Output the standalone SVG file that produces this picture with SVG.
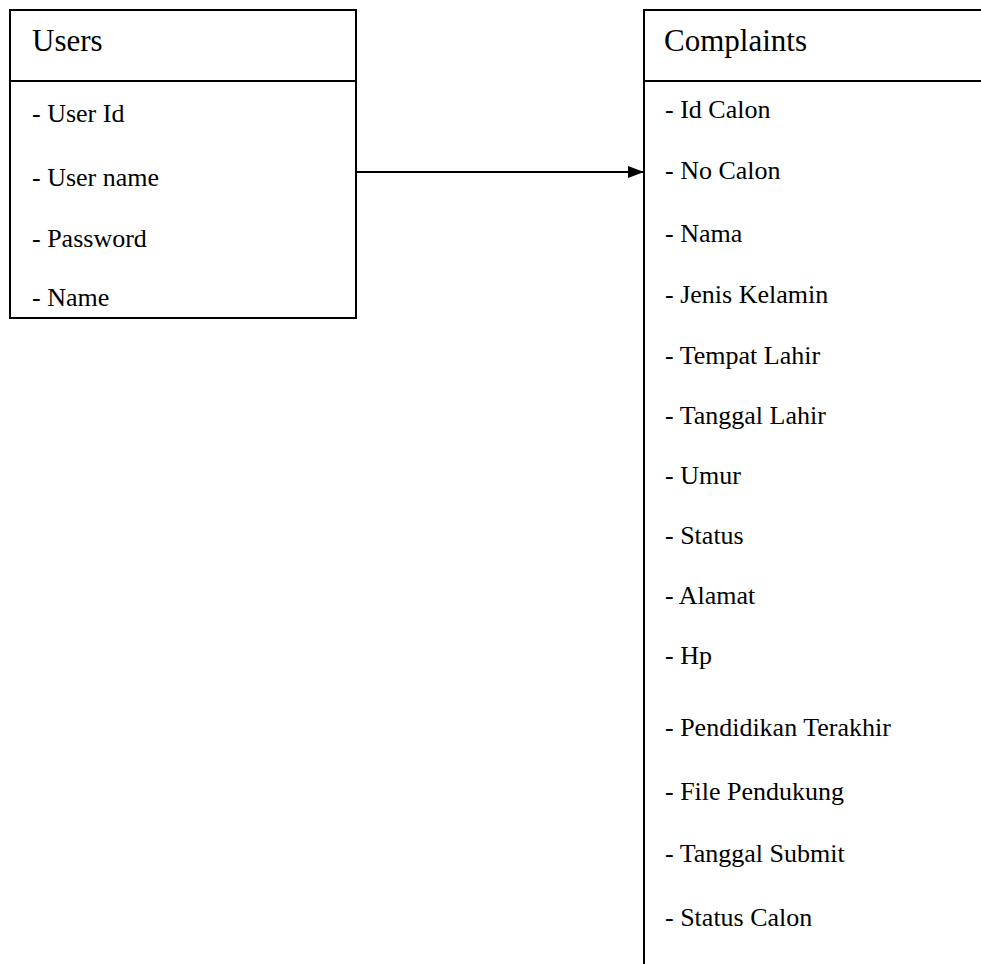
<svg xmlns="http://www.w3.org/2000/svg" width="981" height="964" viewBox="0 0 981 964">
<style>
.box{fill:#fff;stroke:#000;stroke-width:2}
.ln{stroke:#000;stroke-width:2;fill:none}
.t{font-family:"Liberation Serif","Times New Roman",serif;font-size:31px;fill:#000}
.a{font-family:"Liberation Serif","Times New Roman",serif;font-size:26px;fill:#000}
</style>
<defs>
<marker id="arr" markerWidth="16" markerHeight="12" refX="16" refY="6" orient="auto" markerUnits="userSpaceOnUse">
<path d="M0,0 L16,6 L0,12 Z" fill="#000"/>
</marker>
</defs>
<rect width="981" height="964" fill="#fff"/>
<g id="users">
<rect class="box" x="10" y="10" width="346" height="308"/>
<line class="ln" x1="10" y1="81" x2="356" y2="81"/>
<text class="t" x="32" y="51">Users</text>
<text class="a" x="32" y="122">- User Id</text>
<text class="a" x="32" y="186">- User name</text>
<text class="a" x="32" y="247">- Password</text>
<text class="a" x="32" y="306">- Name</text>
</g>
<g id="complaints">
<path class="ln" d="M644,966 L644,10 L983,10"/>
<line class="ln" x1="644" y1="81" x2="983" y2="81"/>
<text class="t" x="664" y="51">Complaints</text>
<text class="a" x="665" y="118">- Id Calon</text>
<text class="a" x="665" y="179">- No Calon</text>
<text class="a" x="665" y="242">- Nama</text>
<text class="a" x="665" y="303">- Jenis Kelamin</text>
<text class="a" x="665" y="364">- Tempat Lahir</text>
<text class="a" x="665" y="424">- Tanggal Lahir</text>
<text class="a" x="665" y="484">- Umur</text>
<text class="a" x="665" y="544">- Status</text>
<text class="a" x="665" y="604">- Alamat</text>
<text class="a" x="665" y="664">- Hp</text>
<text class="a" x="665" y="736">- Pendidikan Terakhir</text>
<text class="a" x="665" y="800">- File Pendukung</text>
<text class="a" x="665" y="862">- Tanggal Submit</text>
<text class="a" x="665" y="926">- Status Calon</text>
</g>
<g id="connectors">
<line class="ln" x1="356" y1="172" x2="644" y2="172" marker-end="url(#arr)"/>
</g>
</svg>
